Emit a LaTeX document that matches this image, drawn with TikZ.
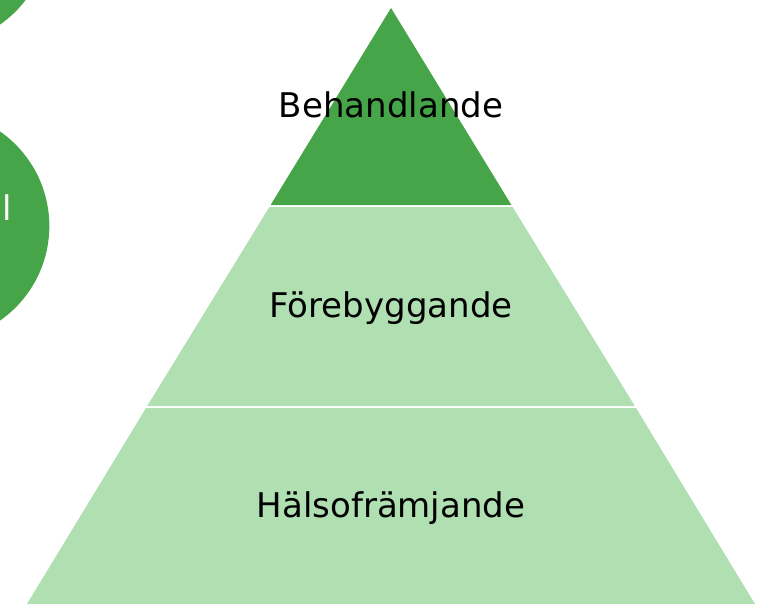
\documentclass[tikz,border=0pt]{standalone}
\usepackage{fontspec}
\setmainfont{DejaVu Sans}
\usepackage{tikz}
\usepackage{xcolor}
\usetikzlibrary{positioning}
\definecolor{darkgreen}{RGB}{70, 165, 73}
\definecolor{lightgreen}{RGB}{176, 223, 178}

\begin{document}
\begin{tikzpicture}[x=0.75pt, y=-0.75pt,
    tiertext/.style={font=\fontsize{25.5}{30}\selectfont, anchor=base, inner sep=0pt}]

\useasboundingbox (0,0) rectangle (770,604);
\clip (0,0) rectangle (770,604);

% Side circles, cut off by the left edge
\fill[darkgreen] (-66,-70) circle[radius=86.5pt];
\fill[darkgreen] (-66,226) circle[radius=86.5pt];
\node[tiertext, text=white] (sidetext) at (7,220) {l};

% Pyramid tiers
\fill[darkgreen] (391,8) -- (511.4,205) -- (270.6,205) -- cycle;
\fill[lightgreen] (269.4,207) -- (512.6,207) -- (634.8,406) -- (147.2,406) -- cycle;
\fill[lightgreen] (146,408) -- (636,408) -- (755,604) -- (27,604) -- cycle;

% Tier labels
\node[tiertext] (behandlande) at (391,117) {Behandlande};
\node[tiertext] (forebyggande) at (391,317) {Förebyggande};
\node[tiertext] (halsoframjande) at (391,517) {Hälsofrämjande};

\end{tikzpicture}
\end{document}
